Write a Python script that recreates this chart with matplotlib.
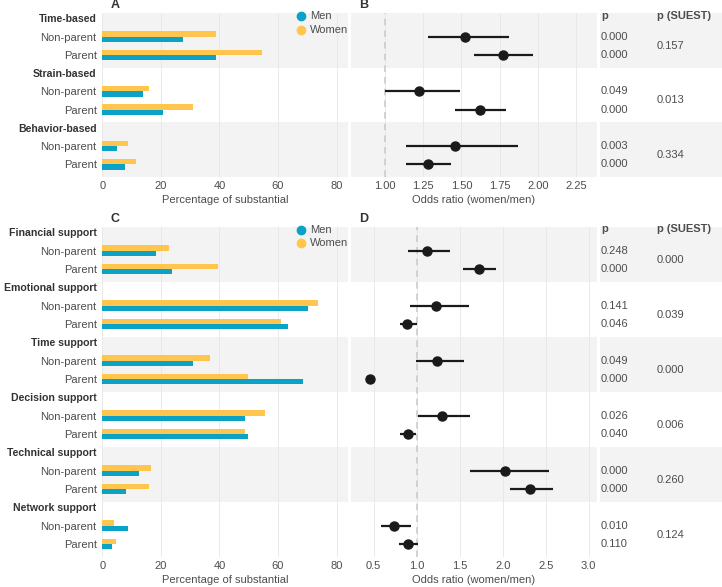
import numpy as np
import matplotlib
matplotlib.use("Agg")
import matplotlib.pyplot as plt

plt.rcParams["font.family"] = ["Liberation Sans", "DejaVu Sans"]

# ---------------- Data ----------------

# Work-family conflict (top)
top_groups = ["Time-based", "Strain-based", "Behavior-based"]
top_men = [27.4, 38.8, 14.0, 20.6, 5.1, 7.9]
top_women = [38.8, 54.7, 15.8, 30.8, 8.8, 11.5]
top_or = [1.52, 1.77, 1.22, 1.62, 1.46, 1.28]
top_lo = [1.28, 1.58, 1.00, 1.46, 1.14, 1.14]
top_hi = [1.81, 1.97, 1.49, 1.79, 1.87, 1.43]
top_p = ["0.000", "0.000", "0.049", "0.000", "0.003", "0.000"]
top_suest = ["0.157", "0.013", "0.334"]

# Support (bottom)
bot_groups = ["Financial support", "Emotional support", "Time support",
              "Decision support", "Technical support", "Network support"]
bot_men = [18.4, 23.9, 70.4, 63.4, 31.0, 68.4, 48.8, 49.8, 12.4, 8.1, 8.7, 3.2]
bot_women = [22.7, 39.6, 73.5, 60.9, 36.9, 49.6, 55.4, 48.7, 16.6, 15.9, 4.1, 4.8]
bot_or = [1.12, 1.72, 1.22, 0.89, 1.24, 0.46, 1.29, 0.90, 2.03, 2.32, 0.74, 0.90]
bot_lo = [0.90, 1.54, 0.92, 0.80, 0.99, 0.44, 1.02, 0.80, 1.62, 2.08, 0.58, 0.79]
bot_hi = [1.39, 1.92, 1.61, 1.00, 1.55, 0.49, 1.62, 0.99, 2.54, 2.59, 0.93, 1.02]
bot_p = ["0.248", "0.000", "0.141", "0.046", "0.049", "0.000",
         "0.026", "0.040", "0.000", "0.000", "0.010", "0.110"]
bot_suest = ["0.000", "0.039", "0.000", "0.006", "0.260", "0.124"]

sub_labels = ["Non-parent", "Parent"]
pct_ticks = [0, 20, 40, 60, 80]
top_or_ticks = [1.00, 1.25, 1.50, 1.75, 2.00, 2.25]
bot_or_ticks = [0.5, 1.0, 1.5, 2.0, 2.5, 3.0]

# ---------------- Style ----------------
MEN = "#0aa3c7"
WOMEN = "#ffc54d"
BAND = "#f3f3f3"
GRID = "#e6e6e6"
TXT = "#4d4d4d"
HEAD = "#333333"
PT = "#1a1a1a"
FS = 8

W, H = 722, 587
fig = plt.figure(figsize=(W / 100, H / 100), dpi=100)


def box(x0, x1, y0, y1):
    return [x0 / W, 1 - y1 / H, (x1 - x0) / W, (y1 - y0) / H]


def bands(ax, n):
    for g in range(n):
        if g % 2 == 0:
            ax.axhspan(3 * g - 0.3, 3 * g + 2.7, color=BAND, lw=0, zorder=0)
    ax.set_ylim(3 * n - 0.3, -0.3)
    for s in ax.spines.values():
        s.set_visible(False)
    ax.tick_params(length=0, labelsize=FS, labelcolor=TXT, pad=3)


def section(y0, y1, groups, men, women, orr, lo, hi, pv, suest,
            or_ticks, or_fmt, or_lim, letters):
    n = len(groups)
    ax_a = fig.add_axes(box(102.3, 348.3, y0, y1))
    ax_b = fig.add_axes(box(351, 597, y0, y1))
    ax_p = fig.add_axes(box(600, 722, y0, y1))
    for ax in (ax_a, ax_b, ax_p):
        bands(ax, n)

    rows = []
    labels = []
    for g in range(n):
        rows += [3 * g, 3 * g + 1, 3 * g + 2]
        labels += [groups[g]] + sub_labels
    data_rows = np.array([r for r in rows if r % 3 != 0])

    # bars
    ax_a.barh(data_rows - 0.145, women, height=0.29, color=WOMEN, zorder=3)
    ax_a.barh(data_rows + 0.145, men, height=0.29, color=MEN, zorder=3)
    ax_a.set_xlim(0, 84)
    ax_a.set_xticks(pct_ticks)
    ax_a.set_yticks(rows)
    ax_a.set_yticklabels(labels)
    ax_a.tick_params(axis="y", pad=4)
    for i, t in enumerate(ax_a.get_yticklabels()):
        if i % 3 == 0:
            t.set_fontweight("bold")
            t.set_fontsize(7.6)
            t.set_color(HEAD)
    ax_a.grid(axis="x", color=GRID, lw=0.6, zorder=1)
    ax_a.set_axisbelow(False)
    ax_a.set_xlabel("Percentage of substantial", fontsize=FS, color=TXT, labelpad=3)

    # legend
    hpx = (y1 - y0)
    for k, (lab, col) in enumerate([("Men", MEN), ("Women", WOMEN)]):
        yy = 1 - (3.0 + 13.6 * k) / hpx
        ax_a.plot([0.808], [yy], "o", color=col, ms=6, transform=ax_a.transAxes,
                  clip_on=False, zorder=5)
        ax_a.text(0.846, yy, lab, fontsize=FS, color=TXT, va="center", ha="left",
                  transform=ax_a.transAxes)

    # odds ratios
    ax_b.axvline(1.0, color="#cccccc", lw=1.2, ls=(0, (4, 3)), zorder=2)
    ax_b.hlines(data_rows, lo, hi, color=PT, lw=1.6, zorder=4)
    ax_b.plot(orr, data_rows, "o", color=PT, ms=6.5, zorder=5)
    ax_b.set_xlim(*or_lim)
    ax_b.set_xticks(or_ticks)
    ax_b.set_xticklabels([or_fmt.format(v) for v in or_ticks])
    ax_b.set_yticks([])
    ax_b.grid(axis="x", color=GRID, lw=0.6, zorder=1)
    ax_b.set_xlabel("Odds ratio (women/men)", fontsize=FS, color=TXT, labelpad=3)

    # p columns
    ax_p.set_xlim(0, 1)
    ax_p.set_xticks([])
    ax_p.set_yticks([])
    ax_p.text(0.008, -0.15, "p", fontsize=FS, fontweight="bold", color=TXT,
              va="center", ha="left")
    ax_p.text(0.467, -0.15, "p (SUEST)", fontsize=FS, fontweight="bold", color=TXT,
              va="center", ha="left")
    for r, v in zip(data_rows, pv):
        ax_p.text(0.008, r, v, fontsize=FS, color=TXT, va="center", ha="left")
    for g, v in enumerate(suest):
        ax_p.text(0.467, 3 * g + 1.5, v, fontsize=FS, color=TXT, va="center", ha="left")

    # panel letters
    ly = y0 - 7.5
    fig.text(110.7 / W, 1 - ly / H, letters[0], fontsize=9, fontweight="bold",
             color=HEAD, va="center", ha="left")
    fig.text(359 / W, 1 - ly / H, letters[1], fontsize=9, fontweight="bold",
             color=HEAD, va="center", ha="left")


section(13, 177, top_groups, top_men, top_women, top_or, top_lo, top_hi,
        top_p, top_suest, top_or_ticks, "{:.2f}", (0.778, 2.386), "AB")
section(226.7, 556.7, bot_groups, bot_men, bot_women, bot_or, bot_lo, bot_hi,
        bot_p, bot_suest, bot_or_ticks, "{:.1f}", (0.236, 3.096), "CD")

fig.savefig("out.png", dpi=100, facecolor="white")
